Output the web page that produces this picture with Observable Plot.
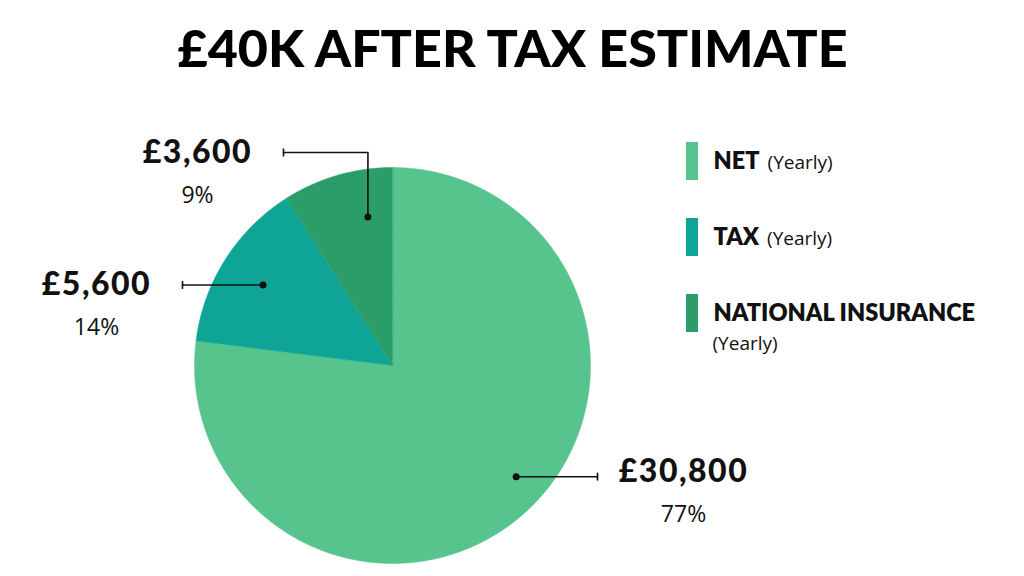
<!DOCTYPE html>
<html><head><meta charset="utf-8">
<script src="https://cdn.jsdelivr.net/npm/d3@7"></script>
<script src="https://cdn.jsdelivr.net/npm/@observablehq/plot@0.6"></script>
<style>body{margin:0;background:#fff;}</style>
</head><body><div id="chart"></div>
<script>
// ---- data ----
const title = "£40K AFTER TAX ESTIMATE";
const categories = ["NET", "TAX", "NATIONAL INSURANCE"];
const amounts = [30800, 5600, 3600];
const amountLabels = ["£30,800", "£5,600", "£3,600"];
const percentLabels = ["77%", "14%", "9%"];
const legendNote = "(Yearly)";
const colors = ["#56C48C", "#0FA596", "#2A9D68"];

// ---- layout ----
const W = 1024, H = 576, cx = 392, cy = 365, R = 198;
const BOLD = "Lato, 'Open Sans', sans-serif";
const REG = "'Open Sans', Lato, sans-serif";
const pt = (a, r) => [cx + r * Math.sin(a), cy - r * Math.cos(a)];
const arcs = d3.pie().sort(null).value(d => d)(amounts);

const slicePts = [];
arcs.forEach((a, i) => {
  const n = Math.max(4, Math.ceil((a.endAngle - a.startAngle) / 0.005));
  slicePts.push({cat: categories[i], x: cx, y: cy});
  for (let k = 0; k <= n; k++) {
    const t = a.startAngle + (a.endAngle - a.startAngle) * k / n;
    const [x, y] = pt(t, R);
    slicePts.push({cat: categories[i], x, y});
  }
});

// leader layout: dot placement within slice, end x of each leader, optional elbow y, label side
const leaderEnd = [
  {frac: 0.476, rf: 0.84, x: 597, side: 1, dy: -5},
  {frac: 0.49, rf: 0.77, x: 182, side: -1, dy: 0},
  {frac: 0.71, rf: 0.76, x: 283, side: -1, dy: 0, elbowY: 152}
];
const dots = [], leaderPts = [], ticks = [], labels = [];
arcs.forEach((a, i) => {
  const L = leaderEnd[i];
  const ang = a.startAngle + (a.endAngle - a.startAngle) * L.frac;
  const [dx, dy] = pt(ang, R * L.rf);
  dots.push({x: dx, y: dy});
  const lineY = L.elbowY ?? dy;
  leaderPts.push({cat: categories[i], x: dx, y: dy});
  if (L.elbowY != null) leaderPts.push({cat: categories[i], x: dx, y: lineY});
  leaderPts.push({cat: categories[i], x: L.x, y: lineY});
  ticks.push({x: L.x, y1: lineY - 4, y2: lineY + 4});
  labels.push({x: L.x + L.side * 86, y: lineY + L.dy, amount: amountLabels[i], pct: percentLabels[i]});
});

// legend
const ctx = document.createElement("canvas").getContext("2d");
ctx.font = `800 23.5px Lato`;
const legend = categories.map((c, i) => {
  const top = 142 + i * 76;
  const wide = c.length > 5;
  const w = ctx.measureText(c).width;
  return {cat: c, top, bottom: top + 38, ty: top + 19,
          nx: wide ? 712 : 713 + w + 8, ny: wide ? top + 49 : top + 20};
});

const chart = Plot.plot({
  width: W, height: H, margin: 0,
  x: {domain: [0, W], range: [0, W], axis: null},
  y: {domain: [0, H], range: [0, H], axis: null},
  color: {domain: categories, range: colors},
  style: {background: "#fff"},
  marks: [
    Plot.line(slicePts, {x: "x", y: "y", z: "cat", fill: "cat", stroke: "cat", strokeWidth: 0.5, curve: "linear-closed"}),
    Plot.line(leaderPts, {x: "x", y: "y", z: "cat", stroke: "#111", strokeWidth: 1.6}),
    Plot.link(ticks, {x1: "x", x2: "x", y1: "y1", y2: "y2", stroke: "#111", strokeWidth: 1.6}),
    Plot.dot(dots, {x: "x", y: "y", r: 3.5, fill: "#111"}),
    Plot.text(labels, {x: "x", y: "y", text: "amount", fontSize: 32, fontWeight: 900, fontFamily: BOLD, fill: "#111", lineAnchor: "middle"}),
    Plot.text(labels, {x: "x", y: "y", dy: 43, text: "pct", fontSize: 23, fontWeight: 400, fontFamily: REG, fill: "#111", lineAnchor: "middle"}),
    Plot.text([title], {x: () => W / 2, y: () => 50, text: d => d, fontSize: 52, fontWeight: 900, fontFamily: BOLD, fill: "#000", lineAnchor: "middle"}),
    Plot.rect(legend, {x1: () => 686, x2: () => 698, y1: "top", y2: "bottom", fill: "cat"}),
    Plot.text(legend, {x: () => 713, y: "ty", text: "cat", textAnchor: "start", fontSize: 23.5, fontWeight: 800, fontFamily: BOLD, fill: "#111", lineAnchor: "middle"}),
    Plot.text(legend, {x: "nx", y: "ny", text: () => legendNote, textAnchor: "start", fontSize: 19, fontWeight: 400, fontFamily: REG, fill: "#111", lineAnchor: "middle"})
  ]
});
chart.querySelectorAll('g[font-size="32"]').forEach(g => g.style.letterSpacing = "1.5px");
document.getElementById("chart").appendChild(chart);
</script>
</body></html>
